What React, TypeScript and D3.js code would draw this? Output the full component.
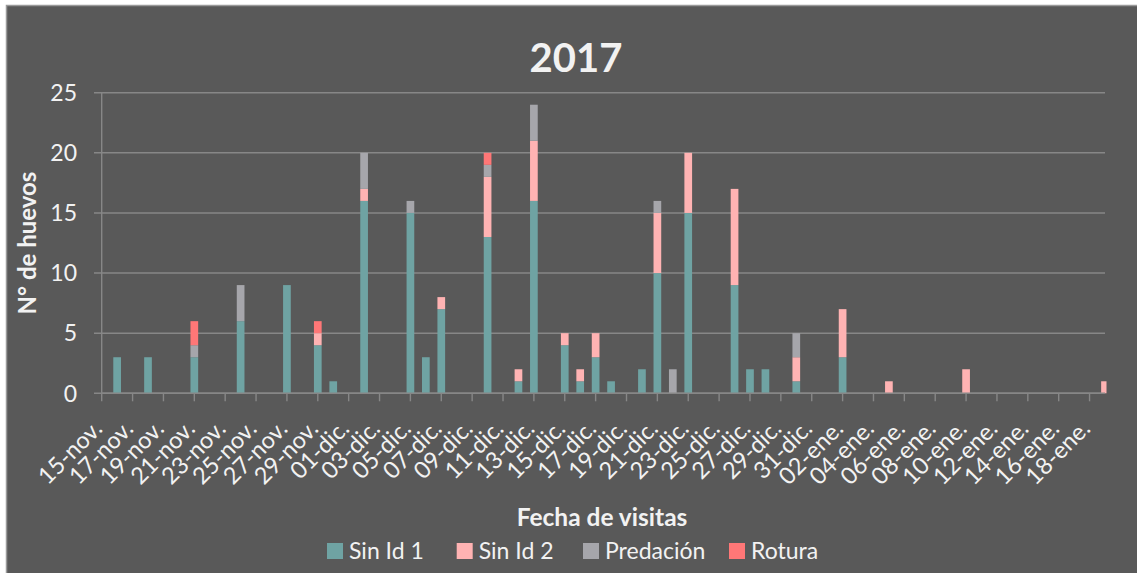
import React from "react";
import * as d3 from "d3";

// fechas de visita (solo los días con huevos)
const fechas = [
  "2017-11-16", "2017-11-18", "2017-11-21", "2017-11-24", "2017-11-27",
  "2017-11-29", "2017-11-30", "2017-12-02", "2017-12-05", "2017-12-06",
  "2017-12-07", "2017-12-10", "2017-12-12", "2017-12-13", "2017-12-15",
  "2017-12-16", "2017-12-17", "2017-12-18", "2017-12-20", "2017-12-21",
  "2017-12-22", "2017-12-23", "2017-12-26", "2017-12-27", "2017-12-28",
  "2017-12-30", "2018-01-02", "2018-01-05", "2018-01-10", "2018-01-19",
];
const sinId1 = [3, 3, 3, 6, 9, 4, 1, 16, 15, 3, 7, 13, 1, 16, 4, 1, 3, 1, 2, 10, 0, 15, 9, 2, 2, 1, 3, 0, 0, 0];
const sinId2 = [0, 0, 0, 0, 0, 1, 0, 1, 0, 0, 1, 5, 1, 5, 1, 1, 2, 0, 0, 5, 0, 5, 8, 0, 0, 2, 4, 1, 2, 1];
const predacion = [0, 0, 1, 3, 0, 0, 0, 3, 1, 0, 0, 1, 0, 3, 0, 0, 0, 0, 0, 1, 2, 0, 0, 0, 0, 2, 0, 0, 0, 0];
const rotura = [0, 0, 2, 0, 0, 1, 0, 0, 0, 0, 0, 1, 0, 0, 0, 0, 0, 0, 0, 0, 0, 0, 0, 0, 0, 0, 0, 0, 0, 0];

const series = ["Sin Id 1", "Sin Id 2", "Predación", "Rotura"];
const colores = ["#6fa3a3", "#ffb3b3", "#a6a6ab", "#ff7777"];
const yTicks = [0, 5, 10, 15, 20, 25];
const meses = ["ene.", "feb.", "mar.", "abr.", "may.", "jun.", "jul.", "ago.", "sep.", "oct.", "nov.", "dic."];

const W = 1137, H = 573;
const font = "Lato, 'Open Sans', sans-serif";
const txt = "#f2f2f2";

export default function App() {
  const inicio = new Date(Date.UTC(2017, 10, 15));
  const fin = new Date(Date.UTC(2018, 0, 19));
  const x = d3.scaleUtc().domain([inicio, fin]).range([101.7, 1105]);
  const y = d3.scaleLinear().domain([0, 25]).range([393.3, 92.7]);
  const barW = 7.7;

  const filas = fechas.map((f, i) => ({
    fecha: new Date(f + "T00:00:00Z"),
    "Sin Id 1": sinId1[i],
    "Sin Id 2": sinId2[i],
    "Predación": predacion[i],
    "Rotura": rotura[i],
  }));
  const capas = d3.stack<any>().keys(series)(filas);

  // una marca cada dos días desde el 15-nov
  const ticks = d3.utcDay.range(inicio, fin, 2);
  const fmt = (d: Date) => d3.utcFormat("%d")(d) + "-" + meses[d.getUTCMonth()];

  const legendX = [327, 456.7, 583, 729];

  return (
    <svg width={W} height={H} style={{ position: "absolute", left: 0, top: 0, fontFamily: font }}>
      <rect x={0} y={0} width={W} height={H} fill="#ffffff" />
      <rect x={6.5} y={5.5} width={W} height={H} fill="#595959" stroke="#9a9a9a" strokeWidth={1.5} />

      <text x={576} y={72} textAnchor="middle" fill={txt} fontSize={40} fontWeight="bold">2017</text>

      {/* rejilla y eje Y */}
      {yTicks.map((t) => (
        <g key={t}>
          <line x1={94} x2={1105} y1={y(t)} y2={y(t)} stroke="#878787" strokeWidth={1.4} />
          <text x={77} y={y(t)} dy="0.36em" textAnchor="end" fill={txt} fontSize={23}>{t}</text>
        </g>
      ))}
      <line x1={101.7} x2={101.7} y1={y(25)} y2={y(0)} stroke="#878787" strokeWidth={1.4} />

      {/* barras apiladas */}
      {capas.map((capa, k) => (
        <g key={capa.key} fill={colores[k]}>
          {capa.map((d, i) => {
            const h = y(d[0]) - y(d[1]);
            if (h <= 0) return null;
            const cx = x(filas[i].fecha);
            const x0 = Math.max(cx - barW / 2, 101.7);
            const x1 = Math.min(cx + barW / 2, 1106.5);
            return <rect key={i} x={x0} y={y(d[1])} width={x1 - x0} height={h} />;
          })}
        </g>
      ))}

      {/* eje X */}
      <line x1={101.7} x2={1105} y1={y(0)} y2={y(0)} stroke="#878787" strokeWidth={1.4} />
      {ticks.map((t, i) => (
        <g key={i}>
          <line x1={x(t)} x2={x(t)} y1={y(0)} y2={y(0) + 8} stroke="#878787" strokeWidth={1.4} />
          <text
            transform={`translate(${x(t) + 2},${430}) rotate(-45)`}
            textAnchor="end"
            fill={txt}
            fontSize={23.5}
          >
            {fmt(t)}
          </text>
        </g>
      ))}

      <text x={602} y={526} textAnchor="middle" fill={txt} fontSize={24.5} fontWeight="bold">Fecha de visitas</text>
      <text transform="translate(36,243) rotate(-90)" textAnchor="middle" fill={txt} fontSize={24} fontWeight="bold">N° de huevos</text>

      {/* leyenda */}
      {series.map((s, i) => (
        <g key={s}>
          <rect x={legendX[i]} y={543} width={16} height={16} fill={colores[i]} />
          <text x={legendX[i] + 22} y={559} fill={txt} fontSize={23}>{s}</text>
        </g>
      ))}
    </svg>
  );
}
